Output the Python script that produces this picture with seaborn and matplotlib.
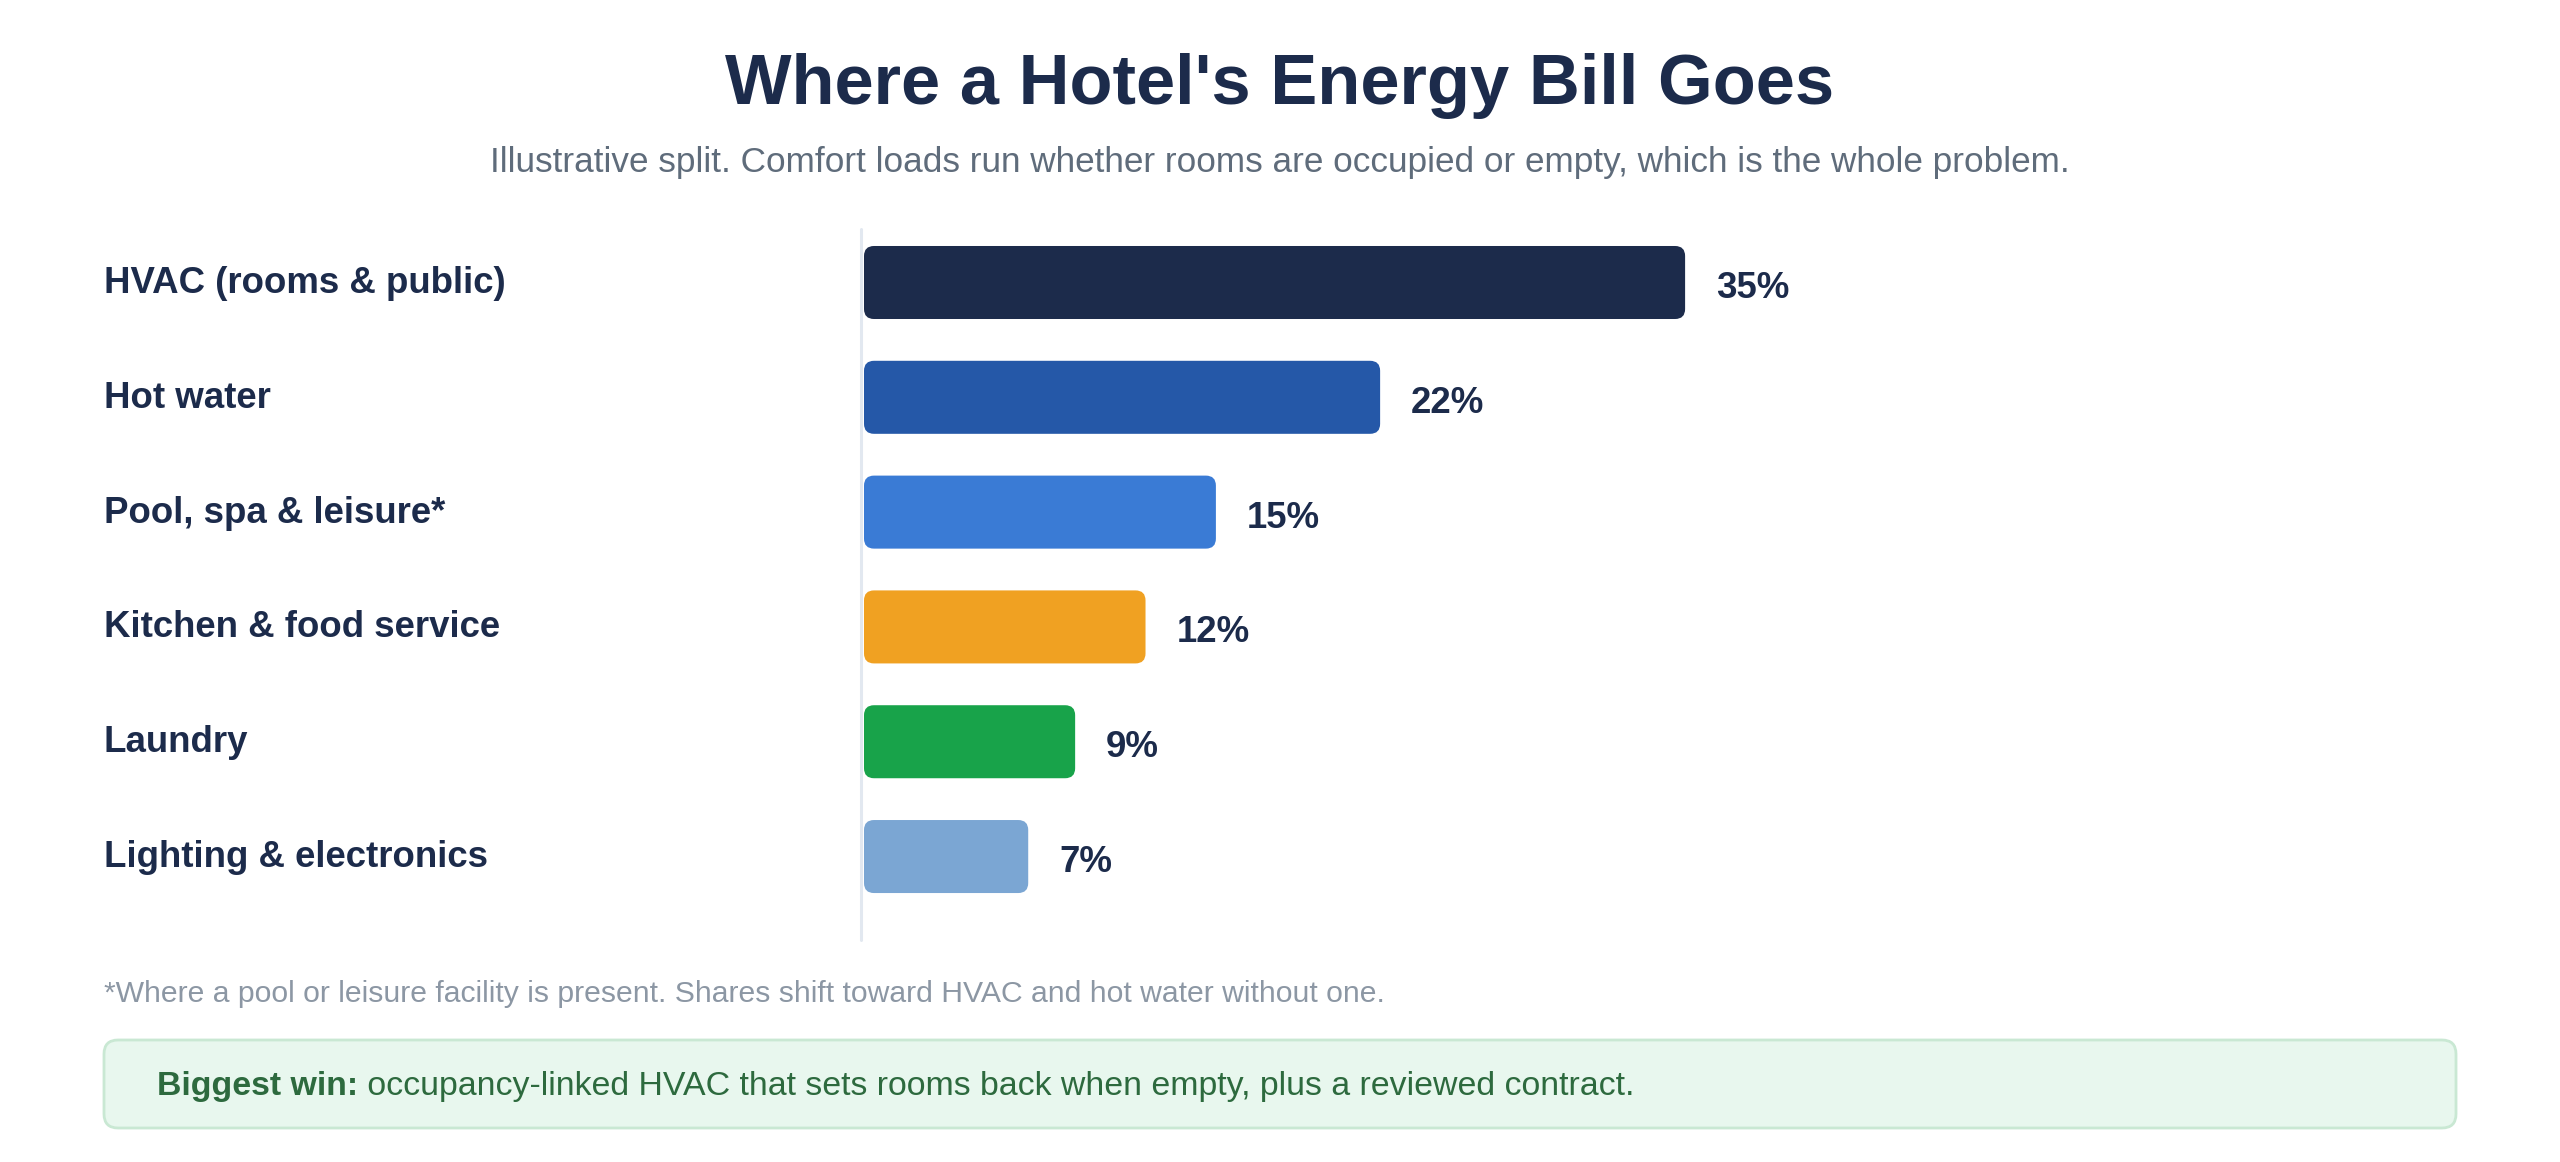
import matplotlib
matplotlib.use("Agg")
import matplotlib.pyplot as plt
from matplotlib.patches import FancyBboxPatch
from matplotlib.transforms import blended_transform_factory
import seaborn as sns
import pandas as pd

# --- data ---
categories = ["HVAC (rooms & public)", "Hot water", "Pool, spa & leisure*",
              "Kitchen & food service", "Laundry", "Lighting & electronics"]
shares = [35, 22, 15, 12, 9, 7]
bar_colors = ["#1c2b4b", "#2558a8", "#3a7bd5", "#f0a122", "#18a34a", "#7ba6d3"]

title = "Where a Hotel's Energy Bill Goes"
subtitle = "Illustrative split. Comfort loads run whether rooms are occupied or empty, which is the whole problem."
footnote = "*Where a pool or leisure facility is present. Shares shift toward HVAC and hot water without one."
win_bold = "Biggest win:"
win_text = " occupancy-linked HVAC that sets rooms back when empty, plus a reviewed contract."

NAVY = "#1c2b4b"

sns.set_theme(style="white")
plt.rcParams["font.family"] = ["Liberation Sans", "DejaVu Sans"]

W, H = 2560, 1162
fig = plt.figure(figsize=(W / 100, H / 100), dpi=100)
fig.patch.set_facecolor("white")

# axes: x=0 at 864px, 1% ~ 23.46px ; rows from 229px to 940px
ax = fig.add_axes([864 / W, (H - 940) / H, 60 * 23.46 / W, 711 / H])
df = pd.DataFrame({"category": categories, "share": shares})
sns.barplot(data=df, x="share", y="category", hue="category",
            palette=bar_colors, legend=False, orient="h", width=0.636,
            saturation=1, ax=ax)

ax.set_xlim(0, 60)
ax.set_ylim(5.727, -0.466)

# rounded bars in place of the plain rectangles
r = 10 / 23.46
for p in list(ax.patches):
    if p.get_width() <= 0:
        continue
    fb = FancyBboxPatch((p.get_x(), p.get_y()), p.get_width(), p.get_height(),
                        boxstyle=f"round,pad=0,rounding_size={r}",
                        mutation_aspect=(10 / 114.8) / r,
                        facecolor=p.get_facecolor(), edgecolor="none", zorder=3)
    ax.add_patch(fb)
    p.remove()

ax.axvline(-0.12, color="#e2e8f0", lw=2.2, clip_on=False, zorder=1)
for s in ax.spines.values():
    s.set_visible(False)
ax.set_xticks([])
ax.set_yticks([])
ax.set_xlabel("")
ax.set_ylabel("")

lab_tr = blended_transform_factory(fig.transFigure, ax.transData)
for i, (cat, v) in enumerate(zip(categories, shares)):
    ax.text(104 / W, i + 0.091, cat, transform=lab_tr, ha="left", va="baseline",
            fontsize=26.4, fontweight="bold", color=NAVY)
    ax.text(v + 1.32, i + 0.135, f"{v}%", ha="left", va="baseline",
            fontsize=26.4, fontweight="bold", color=NAVY, clip_on=False)

# titles
fig.text(0.5, 1 - 104 / H, title, ha="center", va="baseline",
         fontsize=50.8, fontweight="bold", color=NAVY)
fig.text(0.5, 1 - 172 / H, subtitle, ha="center", va="baseline",
         fontsize=25.3, color="#5f6c7b")

# footnote
fig.text(104 / W, 1 - 1002 / H, footnote, ha="left", va="baseline",
         fontsize=21.7, color="#8c97a4")

# takeaway box
rs = 14 / W
box = FancyBboxPatch((104 / W, 1 - 1128 / H), (2456 - 104) / W, 88 / H,
                     boxstyle=f"round,pad=0,rounding_size={rs}",
                     mutation_aspect=(14 / H) / rs,
                     transform=fig.transFigure, facecolor="#e8f7ee",
                     edgecolor="#c9e8d3", lw=2)
fig.patches.append(box)

t1 = fig.text(157 / W, 1 - 1095 / H, win_bold, ha="left", va="baseline",
              fontsize=24.4, fontweight="bold", color="#2d6a3e")
renderer = fig.canvas.get_renderer()
bb = t1.get_window_extent(renderer=renderer)
fig.text(bb.x1 / W, 1 - 1095 / H, win_text, ha="left", va="baseline",
         fontsize=24.4, color="#2d6a3e")

fig.savefig("out.png", dpi=100, facecolor="white")
